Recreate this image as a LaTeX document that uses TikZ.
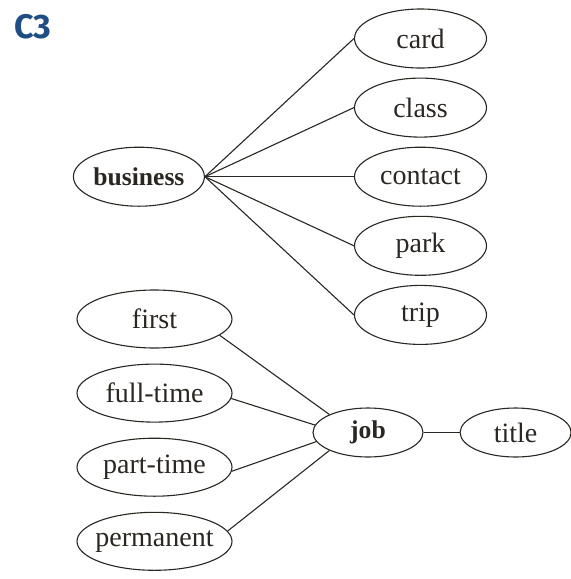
\documentclass[tikz,border=0pt]{standalone}
\usepackage{fontspec}
\setmainfont{Liberation Serif}
\newfontfamily\tagfont{Fira Sans}
\usepackage{xcolor}
\usetikzlibrary{shapes.geometric,positioning}

\definecolor{ink}{RGB}{42,38,34}
\definecolor{tagblue}{RGB}{31,78,133}

\tikzset{
  term/.style={ellipse, draw=ink, line width=0.55pt, inner sep=0pt, text=ink,
    font=\fontsize{14}{16}\selectfont},
  head/.style={term, font=\fontsize{12.8}{15}\selectfont\bfseries},
  rword/.style={term, minimum width=66pt, minimum height=29.5pt},
  lword/.style={term, inner xsep=-3.5pt, minimum width=77.5pt, minimum height=29pt},
  link/.style={draw=ink, line width=0.55pt}
}

\begin{document}
\begin{tikzpicture}[x=0.5pt,y=-0.5pt]
  \useasboundingbox (0,0) rectangle (570,579);

  \node[anchor=base west, inner sep=0pt, text=tagblue,
    font=\tagfont\bfseries\fontsize{17}{20}\selectfont] (tag) at (14,38) {C3};

  \node[rword]                     (card)     at (420.5,38.5) {card};
  \node[rword, below=4.5pt of card]     (class)    {class};
  \node[rword, below=4.5pt of class]    (contact)  {contact};
  \node[rword, below=4.5pt of contact]  (park)     {park};
  \node[rword, below=4.5pt of park]     (trip)     {trip};
  \node[head, minimum width=65.5pt, minimum height=29.5pt,
    left=74.5pt of contact] (business) {business};

  \node[lword]                     (first)    at (154.5,319) {first};
  \node[lword, below=7.5pt of first]     (fulltime)  {full-time};
  \node[lword, below=7.5pt of fulltime]  (parttime)  {part-time};
  \node[lword, below=7.5pt of parttime]  (permanent) {permanent};
  \node[head, minimum width=55pt, minimum height=24.5pt] (job) at (368,432.5) {job};
  \node[term, minimum width=55.5pt, minimum height=24.5pt, right=18pt of job] (title) {title};

  \draw[link] (business.east) -- (card.west);
  \draw[link] (business.east) -- (class.west);
  \draw[link] (business.east) -- (contact.west);
  \draw[link] (business.east) -- (park.west);
  \draw[link] (business.east) -- (trip.west);

  \draw[link] (first.-14)    -- (job.155);
  \draw[link] (fulltime.-4)  -- (job.172);
  \draw[link] (parttime.-3)  -- (job.190);
  \draw[link] (permanent.8)  -- (job.205);
  \draw[link] (job) -- (title);

\end{tikzpicture}
\end{document}
